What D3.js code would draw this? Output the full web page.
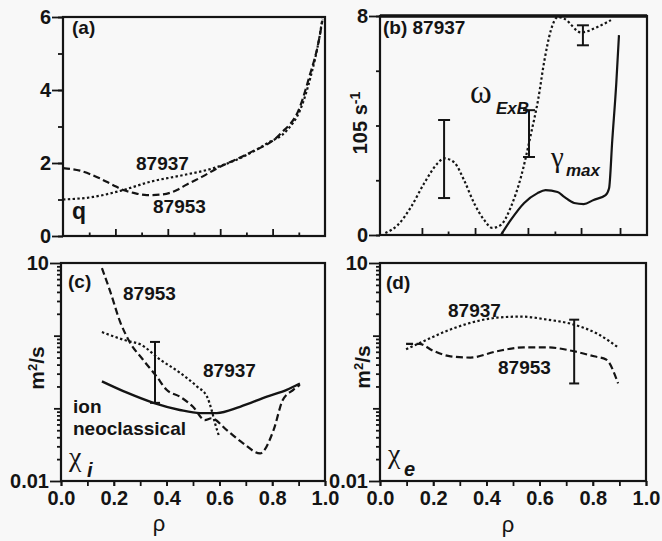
<!DOCTYPE html>
<html><head><meta charset="utf-8">
<script src="https://cdn.jsdelivr.net/npm/d3@7"></script>
<style>
html,body{margin:0;padding:0;background:#f8f8f8;}
svg{display:block;}
</style></head>
<body>
<script>
// ---------- DATA ----------
// (a) safety factor q
const rhoA_87953 = [0,0.065,0.14,0.19,0.23,0.27,0.32,0.38,0.435,0.47,0.53,0.59,0.71,0.83,0.905,0.94,0.975,0.99];
const qA_87953   = [1.86,1.79,1.58,1.40,1.26,1.18,1.12,1.14,1.26,1.40,1.62,1.86,2.27,2.8,3.55,4.36,5.3,5.9];
const rhoA_87937 = [0,0.115,0.23,0.33,0.46,0.575,0.675,0.78,0.855,0.905,0.945,0.98,0.99];
const qA_87937   = [1.0,1.07,1.26,1.48,1.67,1.86,2.13,2.54,2.9,3.45,4.36,5.5,5.95];
const yTicksA = [0,1,2,3,4,5,6];
const yLabelsA = [0,2,4,6];

// (b) shot 87937: omega_ExB and gamma_max (10^5 s^-1)
const rhoB_w = [0.02,0.067,0.116,0.166,0.216,0.24,0.277,0.315,0.352,0.39,0.42,0.453,0.49,0.528,0.566,0.592,0.616,0.64,0.666,0.69,0.753,0.815,0.865];
const wB     = [0.07,0.37,1.02,1.9,2.62,2.8,2.66,2.0,1.17,0.55,0.26,0.37,1.02,2.12,3.72,4.93,6.39,7.48,7.96,7.9,7.4,7.6,7.85];
const rhoB_g = [0.453,0.49,0.54,0.59,0.62,0.665,0.69,0.727,0.763,0.8,0.845,0.858,0.87,0.885,0.895];
const gB     = [0,0.55,1.17,1.53,1.64,1.57,1.39,1.17,1.13,1.28,1.46,1.71,3.47,5.55,7.3];
const errB_rho = [0.24,0.558,0.76];
const errB_lo  = [1.35,2.85,6.93];
const errB_hi  = [4.2,4.56,7.66];
const yTicksB = [0,2,4,6,8];
const yLabelsB = [0,8];
const xTicksB_major = [0.157,0.356,0.554,0.753,0.899];
const xTicksB_minor = [0.255,0.457,0.655];

// (c) chi_i (m^2/s)
const rhoC_87953 = [0.155,0.186,0.224,0.26,0.31,0.362,0.40,0.45,0.5,0.545,0.57,0.628,0.69,0.754,0.805,0.84,0.88,0.905];
const cC_87953   = [8.5,4.1,1.55,0.82,0.47,0.275,0.18,0.145,0.105,0.069,0.073,0.05,0.033,0.024,0.05,0.13,0.18,0.21];
const rhoC_87937 = [0.155,0.25,0.3,0.375,0.45,0.515,0.553,0.57,0.583,0.6];
const cC_87937   = [1.12,0.85,0.76,0.47,0.31,0.2,0.145,0.096,0.063,0.04];
const rhoC_neo   = [0.155,0.25,0.35,0.45,0.527,0.59,0.678,0.78,0.855,0.905];
const cC_neo     = [0.235,0.164,0.119,0.095,0.086,0.086,0.105,0.145,0.18,0.22];
const errC_rho = [0.356], errC_lo = [0.119], errC_hi = [0.82];

// (d) chi_e (m^2/s)
const rhoD_87937 = [0.098,0.155,0.24,0.34,0.44,0.53,0.63,0.72,0.82,0.895];
const cD_87937   = [0.65,0.81,1.12,1.5,1.77,1.83,1.66,1.45,1.05,0.69];
const rhoD_87953 = [0.098,0.148,0.2,0.265,0.34,0.44,0.54,0.63,0.72,0.805,0.85,0.895];
const cD_87953   = [0.77,0.77,0.62,0.52,0.5,0.61,0.69,0.69,0.62,0.52,0.47,0.22];
const errD_rho = [0.73], errD_lo = [0.22], errD_hi = [1.66];

const xTicksRho = [0,0.1,0.2,0.3,0.4,0.5,0.6,0.7,0.8,0.9,1.0];
const xLabelsRho = [0,0.2,0.4,0.6,0.8,1.0];
const logDecades = [0.1,1];
const logLabels = [0.01,10];

// ---------- LAYOUT ----------
const W = 662, H = 541;
const INK = "#141414";
const FONT = "'Liberation Sans',Arial,Helvetica,sans-serif";
const SERIF = "'Liberation Serif','DejaVu Serif',serif";
const svg = d3.select("body").append("svg").attr("width", W).attr("height", H);
svg.append("rect").attr("width", W).attr("height", H).attr("fill", "#f8f8f8");

const zip = (a, b) => a.map((v, i) => [v, b[i]]);

function panel(px) {
  const x = d3.scaleLinear().domain([0, 1]).range([px.x0, px.x1]);
  const y = (px.log ? d3.scaleLog() : d3.scaleLinear()).domain(px.dom).range([px.y0, px.y1]);
  return {x, y, px};
}
const A = panel({x0:63, x1:325, y0:236, y1:17, dom:[0,6]});
const B = panel({x0:380, x1:647, y0:235, y1:16, dom:[0,8]});
const C = panel({x0:61, x1:325, y0:481, y1:263, dom:[0.01,10], log:true});
const D = panel({x0:380, x1:646, y0:481, y1:263, dom:[0.01,10], log:true});

function styleAxis(g, fs) {
  g.select(".domain").remove();
  g.selectAll(".tick line").attr("stroke", INK).attr("stroke-width", 1.8);
  g.selectAll(".tick text").attr("fill", INK).style("font-family", FONT)
    .style("font-weight", "bold").style("font-size", (fs || 20) + "px");
}

function axisYTicks(P, vals, len) {
  const g = svg.append("g").attr("transform", `translate(${P.px.x0},0)`)
    .call(d3.axisLeft(P.y).tickValues(vals).tickSize(len).tickFormat(""));
  styleAxis(g);
}
function axisYLabels(P, vals, fmt) {
  const g = svg.append("g").attr("transform", `translate(${P.px.x0},0)`)
    .call(d3.axisLeft(P.y).tickValues(vals).tickSize(11).tickPadding(1).tickFormat(fmt));
  styleAxis(g);
}

function axisXInside(P, major, minor) {
  const g1 = svg.append("g").attr("transform", `translate(0,${P.px.y0})`)
    .call(d3.axisBottom(P.x).tickValues(major).tickSize(-7).tickFormat(""));
  styleAxis(g1);
  const g2 = svg.append("g").attr("transform", `translate(0,${P.px.y0})`)
    .call(d3.axisBottom(P.x).tickValues(minor).tickSize(-3.5).tickFormat(""));
  styleAxis(g2);
}

function axisXOutside(P) {
  const g1 = svg.append("g").attr("transform", `translate(0,${P.px.y0})`)
    .call(d3.axisBottom(P.x).tickValues(xTicksRho).tickSize(5).tickFormat(""));
  styleAxis(g1);
  const g2 = svg.append("g").attr("transform", `translate(0,${P.px.y0})`)
    .call(d3.axisBottom(P.x).tickValues(xLabelsRho).tickSize(5).tickPadding(5).tickFormat(d3.format(".1f")));
  styleAxis(g2, 20);
}

function logMinor() {
  const out = [];
  for (let e = -2; e < 1; e++) for (let k = 2; k <= 9; k++) out.push(k * Math.pow(10, e));
  return out;
}
const logFmt = d => d >= 1 ? d3.format("d")(d) : d3.format(".2~f")(d);

function frame(P, topW) {
  svg.append("rect").attr("x", P.px.x0).attr("y", P.px.y1)
    .attr("width", P.px.x1 - P.px.x0).attr("height", P.px.y0 - P.px.y1)
    .attr("fill", "none").attr("stroke", INK).attr("stroke-width", 2.2);
  if (topW) svg.append("line").attr("x1", P.px.x0).attr("x2", P.px.x1)
    .attr("y1", P.px.y1).attr("y2", P.px.y1).attr("stroke", INK).attr("stroke-width", topW);
}

function curve(P, xs, ys, dash, w) {
  const line = d3.line().x(d => P.x(d[0])).y(d => P.y(d[1])).curve(d3.curveMonotoneX);
  svg.append("path").attr("d", line(zip(xs, ys))).attr("fill", "none")
    .attr("stroke", INK).attr("stroke-width", w || 2.2)
    .attr("stroke-dasharray", dash || null).attr("stroke-linecap", "butt");
}
const DASH = "7,3.5", DOT = "2.4,2.4";

function errbars(P, xs, lo, hi, cap) {
  xs.forEach((r, i) => {
    const cx = P.x(r);
    svg.append("line").attr("x1", cx).attr("x2", cx).attr("y1", P.y(lo[i])).attr("y2", P.y(hi[i]))
      .attr("stroke", INK).attr("stroke-width", 2);
    [lo[i], hi[i]].forEach(v => svg.append("line").attr("x1", cx - cap).attr("x2", cx + cap)
      .attr("y1", P.y(v)).attr("y2", P.y(v)).attr("stroke", INK).attr("stroke-width", 2));
  });
}

function label(x, y, txt, opt) {
  opt = opt || {};
  const t = svg.append("text").attr("x", x).attr("y", y).attr("fill", INK)
    .style("font-family", opt.family || FONT).style("font-weight", opt.weight || "bold")
    .style("font-size", (opt.size || 19) + "px").style("font-style", opt.style || "normal")
    .attr("text-anchor", opt.anchor || "start");
  if (opt.rotate) t.attr("transform", `rotate(${opt.rotate},${x},${y})`);
  t.text(txt);
  return t;
}
function m2sLabel(x, y) {
  const t = label(x, y, "", {rotate: -90, anchor: "middle", size: 21});
  t.append("tspan").text("m");
  t.append("tspan").attr("dy", -7).style("font-size", "13px").text("2");
  t.append("tspan").attr("dy", 7).text("/s");
}

// ---------- PANEL (a) ----------
frame(A);
axisYTicks(A, yTicksA, 5);
axisYLabels(A, yLabelsA, d3.format("d"));
axisXInside(A, [0.2,0.4,0.6,0.8], [0.1,0.3,0.5,0.7,0.9]);
curve(A, rhoA_87953, qA_87953, DASH);
curve(A, rhoA_87937, qA_87937, DOT);
label(72, 34, "(a)");
label(136, 170, "87937");
label(153, 213, "87953");
label(72, 219, "q", {size: 23});

// ---------- PANEL (b) ----------
frame(B, 3.5);
axisYTicks(B, yTicksB, 4);
axisYLabels(B, yLabelsB, d3.format("d"));
axisXInside(B, xTicksB_major, xTicksB_minor);
curve(B, rhoB_w, wB, DOT);
curve(B, rhoB_g, gB, null, 2.2);
errbars(B, errB_rho, errB_lo, errB_hi, 6);
label(383, 34, "(b) 87937");
label(470, 103, "ω", {family: SERIF, weight: "normal", size: 33});
label(496, 114, "ExB", {style: "italic", size: 17});
label(551, 167, "γ", {family: SERIF, weight: "normal", size: 29});
label(566, 176, "max", {style: "italic", size: 17});
{
  const t = label(367, 123, "", {rotate: -90, anchor: "middle", size: 20});
  t.append("tspan").text("105 s");
  t.append("tspan").attr("dy", -7).style("font-size", "14px").text("-1");
}

// ---------- PANEL (c) ----------
frame(C);
axisYTicks(C, logMinor(), 4);
axisYTicks(C, logDecades, 7);
axisYLabels(C, logLabels, logFmt);
axisXOutside(C);
curve(C, rhoC_87953, cC_87953, DASH);
curve(C, rhoC_87937, cC_87937, DOT);
curve(C, rhoC_neo, cC_neo, null, 2.4);
errbars(C, errC_rho, errC_lo, errC_hi, 5);
label(68, 288, "(c)");
label(123, 300, "87953");
label(203, 377, "87937");
label(73, 413, "ion");
label(73, 435, "neoclassical");
label(69, 466, "χ", {family: SERIF, weight: "normal", size: 28});
label(87, 477, "i", {style: "italic", size: 20});
m2sLabel(44, 368);
label(159, 531, "ρ", {weight: "normal", size: 22, anchor: "middle"});

// ---------- PANEL (d) ----------
frame(D);
axisYTicks(D, logMinor(), 4);
axisYTicks(D, logDecades, 7);
axisYLabels(D, logLabels, logFmt);
axisXOutside(D);
curve(D, rhoD_87937, cD_87937, DOT);
curve(D, rhoD_87953, cD_87953, DASH);
errbars(D, errD_rho, errD_lo, errD_hi, 5);
label(386, 289, "(d)");
label(448, 317, "87937");
label(498, 374, "87953");
label(388, 463, "χ", {family: SERIF, weight: "normal", size: 28});
label(404, 476, "e", {style: "italic", size: 20});
m2sLabel(370, 367);
label(508, 532, "ρ", {weight: "normal", size: 22, anchor: "middle"});
</script>
</body></html>
